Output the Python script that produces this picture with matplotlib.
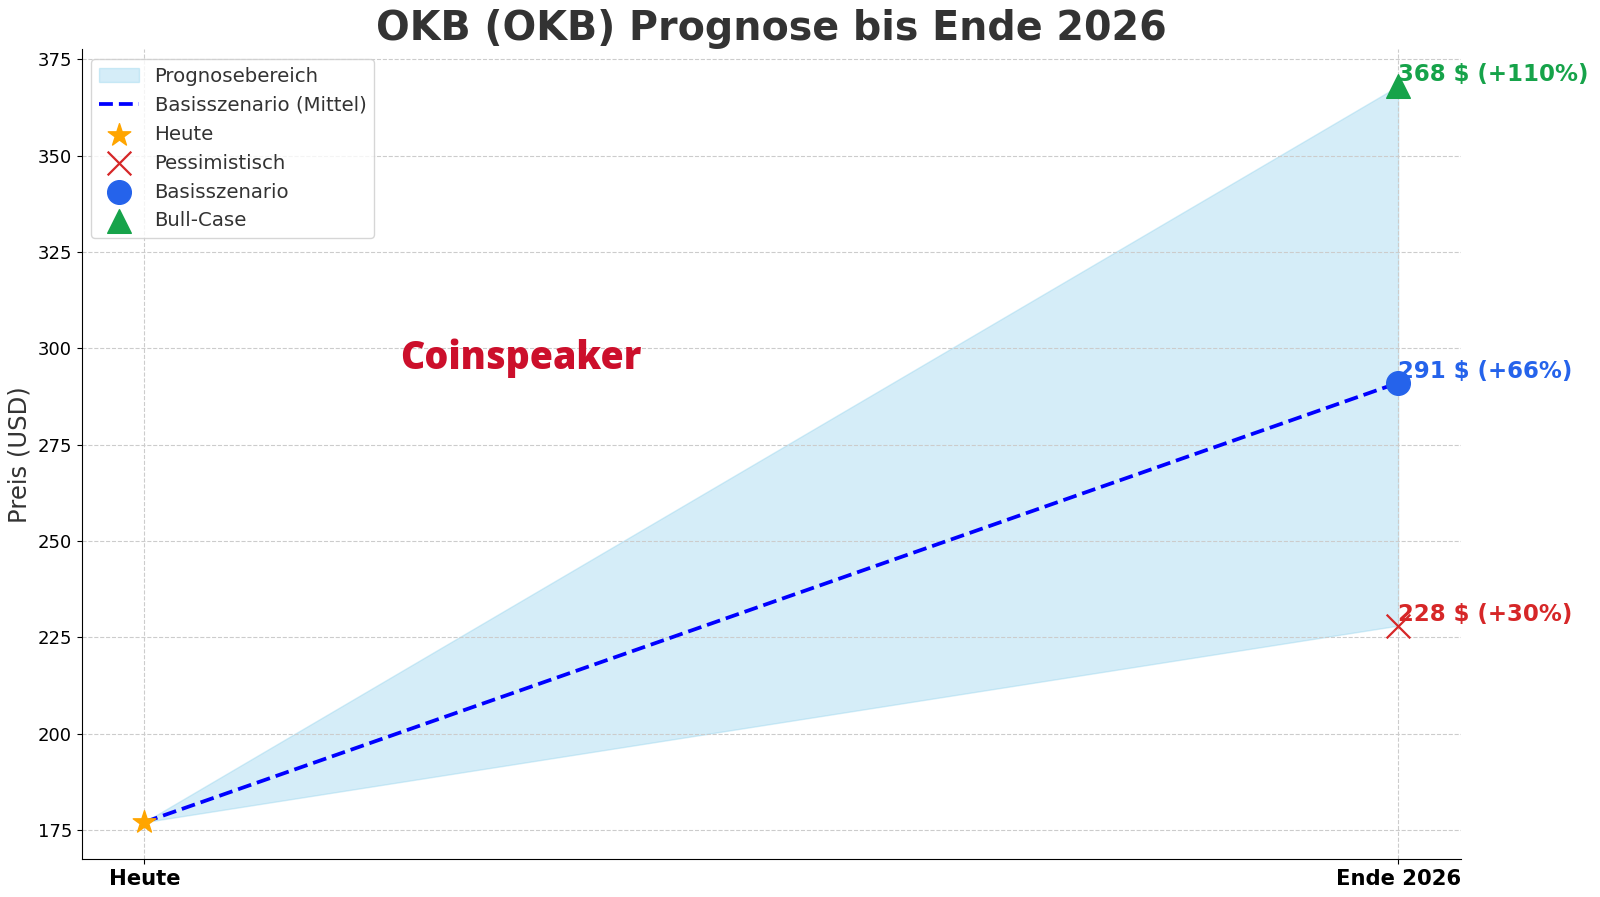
import numpy as np
import matplotlib.pyplot as plt

# Data
labels = ["Heute", "Ende 2026"]
today_price = 177
bear_price = 228
base_price = 291
bull_price = 368
bear_txt = "228 $ (+30%)"
base_txt = "291 $ (+66%)"
bull_txt = "368 $ (+110%)"

x = np.array([0, 1])
low = np.array([today_price, bear_price])
mid = np.array([today_price, base_price])
high = np.array([today_price, bull_price])

fig = plt.figure(figsize=(16, 8.97), dpi=100)
ax = fig.add_axes([0.051, 0.0424, 0.862, 0.9026])

ax.fill_between(x, low, high, color="skyblue", alpha=0.35, label="Prognosebereich")
ax.plot(x, mid, color="blue", linestyle="--", linewidth=2.7, label="Basisszenario (Mittel)")

ax.scatter([0], [today_price], marker="*", s=290, color="orange", zorder=5, label="Heute")
ax.scatter([1], [bear_price], marker="x", s=290, color="#d62728", linewidths=1.6, zorder=5, label="Pessimistisch")
ax.scatter([1], [base_price], marker="o", s=290, color="#2563eb", zorder=5, label="Basisszenario")
ax.scatter([1], [bull_price], marker="^", s=290, color="#16a34a", zorder=5, label="Bull-Case")

ax.text(1, bull_price, bull_txt, color="#16a34a", fontsize=16.5, fontweight="bold", va="bottom", ha="left")
ax.text(1, base_price, base_txt, color="#2563eb", fontsize=16.5, fontweight="bold", va="bottom", ha="left")
ax.text(1, bear_price, bear_txt, color="#d62728", fontsize=16.5, fontweight="bold", va="bottom", ha="left")

# watermark
ax.text(0.30, 297.3, "Coinspeaker", color="#cc0f2b", fontsize=27, fontweight="heavy",
        family="Open Sans", ha="center", va="center")

ax.set_xticks(x)
ax.set_xticklabels(labels, fontsize=15.2, fontweight="bold")
ax.tick_params(axis="y", labelsize=13)
ax.set_ylabel("Preis (USD)", fontsize=17.5, color="#333333")
ax.set_title("OKB (OKB) Prognose bis Ende 2026", fontsize=28.5, fontweight="bold", color="#333333", pad=6)

ax.grid(True, linestyle="--", color="#cccccc", linewidth=0.8)
ax.spines["top"].set_visible(False)
ax.spines["right"].set_visible(False)

ax.legend(loc="upper left", fontsize=14.2, labelcolor="#333333")

fig.savefig("out.png", dpi=100)
